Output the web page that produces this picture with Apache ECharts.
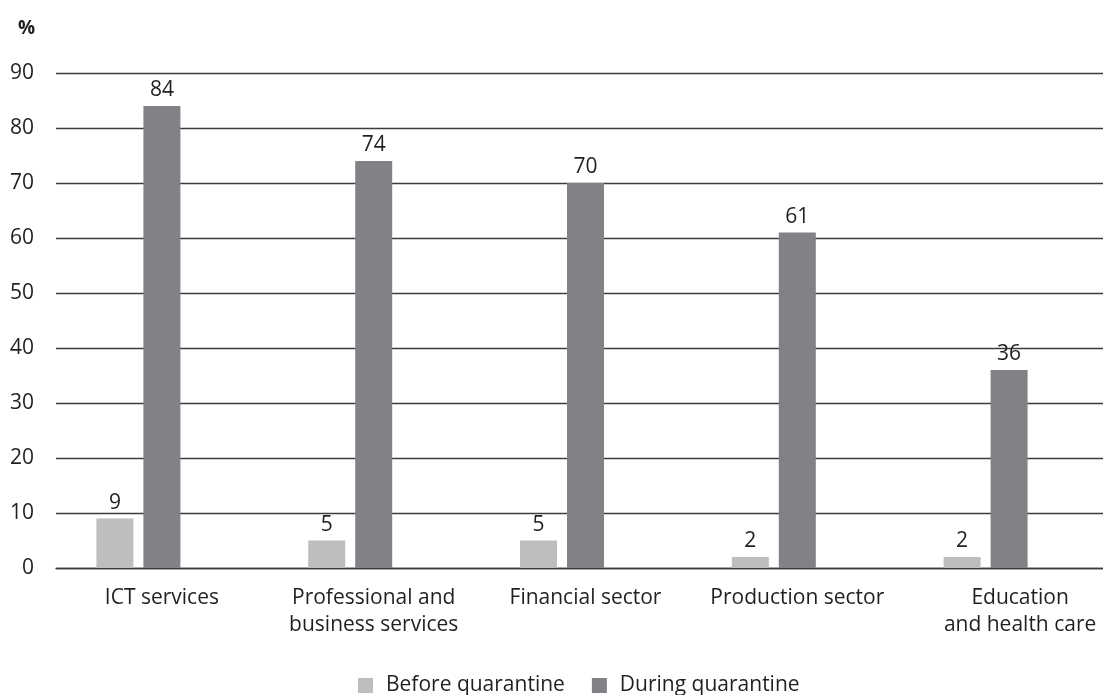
<!DOCTYPE html>
<html><head><meta charset="utf-8">
<script src="https://cdn.jsdelivr.net/npm/echarts@6/dist/echarts.min.js"></script>
<style>html,body{margin:0;padding:0;background:#fff}#c{width:1103px;height:695px}</style>
</head><body><div id="c"></div>
<script>
const categories = ['ICT services', 'Professional and\nbusiness services', 'Financial sector', 'Production sector', 'Education\nand health care'];
const beforeQuarantine = [9, 5, 5, 2, 2];
const duringQuarantine = [84, 74, 70, 61, 36];
const yTicks = { min: 0, max: 90, interval: 10 };

const font = 'Open Sans';
const chart = echarts.init(document.getElementById('c'));
chart.setOption({
  animation: false,
  textStyle: { fontFamily: font },
  title: { text: '%', left: 13, top: 14, textStyle: { fontFamily: font, fontSize: 19, fontWeight: 'bold', color: '#231f20' } },
  legend: {
    top: 670, left: 353, itemWidth: 15, itemHeight: 15, itemGap: 27,
    icon: 'rect',
    data: ['Before quarantine', 'During quarantine'],
    textStyle: { fontFamily: font, fontSize: 21, color: '#231f20', padding: [0, 0, 0, 8] }
  },
  grid: { left: 56, top: 73, width: 1059, bottom: 127, containLabel: false, outerBoundsMode: 'none' },
  xAxis: {
    type: 'category', data: categories,
    axisLine: { lineStyle: { color: '#3c3c3c', width: 1.3 } },
    axisTick: { show: false },
    axisLabel: {
      fontFamily: font, fontSize: 21, color: '#231f20', margin: 17, lineHeight: 27, interval: 0,
      formatter: (v, i) => i === categories.length - 1
        ? v.split('\n').map(s => '{s|' + s + '}').join('\n') : v,
      rich: { s: { fontFamily: font, fontSize: 21, color: '#231f20', lineHeight: 27, padding: [0, 0, 0, 22] } }
    }
  },
  yAxis: {
    type: 'value', min: yTicks.min, max: yTicks.max, interval: yTicks.interval,
    axisLine: { show: false }, axisTick: { show: false },
    splitLine: { lineStyle: { color: '#3c3c3c', width: 1.3 } },
    axisLabel: { fontFamily: font, fontSize: 21, color: '#231f20', margin: 22 }
  },
  series: [
    { name: 'Before quarantine', type: 'bar', data: beforeQuarantine, barWidth: 37, barGap: '27%',
      itemStyle: { color: '#bcbec0' },
      label: { show: true, position: 'top', distance: 5, fontFamily: font, fontSize: 21, color: '#231f20' } },
    { name: 'During quarantine', type: 'bar', data: duringQuarantine, barWidth: 37, barGap: '27%',
      itemStyle: { color: '#808285' },
      label: { show: true, position: 'top', distance: 5, fontFamily: font, fontSize: 21, color: '#231f20' } },
    { name: 'spacer', type: 'bar', data: ['-', '-', '-', '-', '-'], barWidth: 37, barGap: '27%', silent: true }
  ]
});
</script></body></html>
